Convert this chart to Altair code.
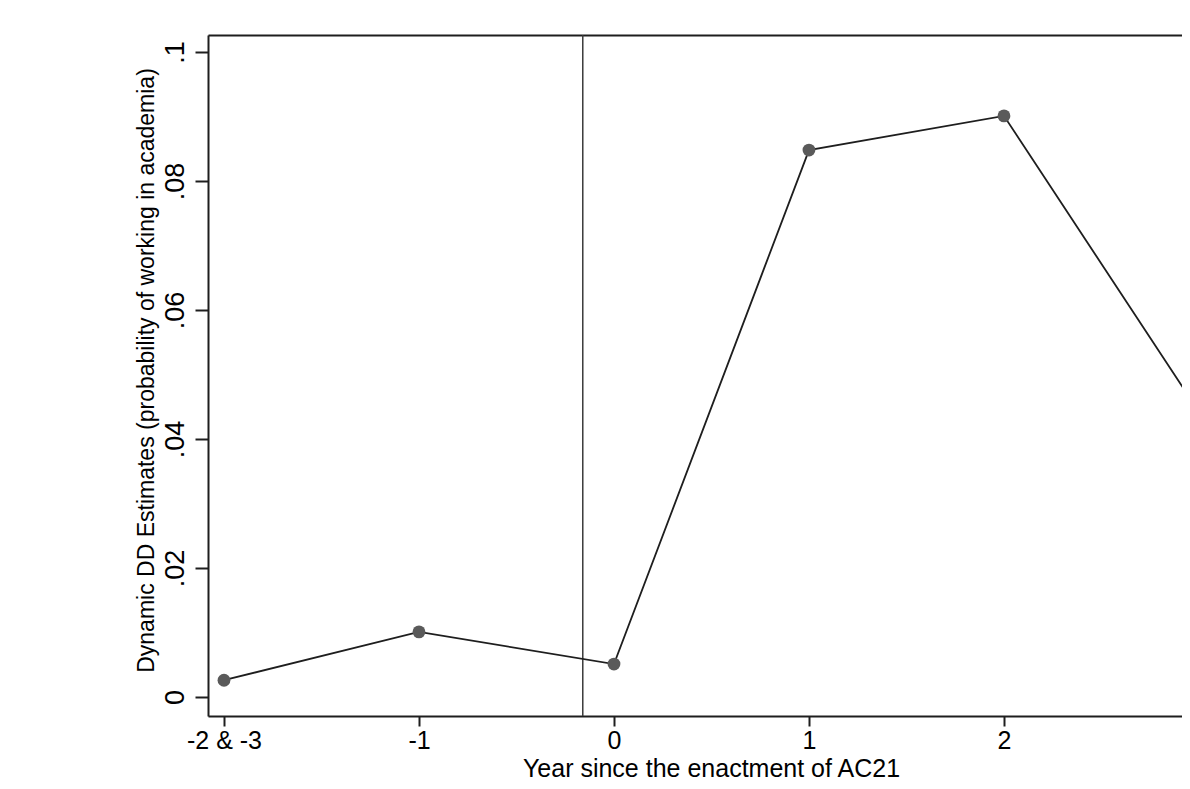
import altair as alt
import pandas as pd

# ---- data ----
years = [-2, -1, 0, 1, 2, 3]
estimates = [0.0026, 0.0101, 0.0051, 0.0848, 0.0901, 0.0442]
x_tick_values = [-2, -1, 0, 1, 2]
x_tick_labels = ["-2 & -3", "-1", "0", "1", "2"]
y_tick_values = [0, 0.02, 0.04, 0.06, 0.08, 0.1]
y_tick_labels = ["0", ".02", ".04", ".06", ".08", ".1"]
enactment_line = [-0.16]
x_domain = [-2.082, 2.913]
y_domain = [-0.00295, 0.10264]

x_title = "Year since the enactment of AC21"
y_title = "Dynamic DD Estimates (probability of working in academia)"

FONT = "Liberation Sans"
INK = "#1e1e1e"


def label_expr(values, labels):
    expr = "''"
    for v, l in reversed(list(zip(values, labels))):
        expr = f"abs(datum.value - ({v})) < 1e-6 ? '{l}' : ({expr})"
    return expr


df = pd.DataFrame({"year": years, "est": estimates})
vdf = pd.DataFrame({"x": enactment_line})

x_scale = alt.Scale(domain=x_domain, nice=False, zero=False)
y_scale = alt.Scale(domain=y_domain, nice=False, zero=False)

x_axis = alt.Axis(
    values=x_tick_values,
    labelExpr=label_expr(x_tick_values, x_tick_labels),
    grid=False,
    domain=True, domainColor=INK, domainWidth=2,
    ticks=True, tickColor=INK, tickWidth=2, tickSize=10,
    labelFont=FONT, labelFontSize=25, labelColor="#000000",
    labelBaseline="alphabetic", labelAlign="center", labelPadding=22,
    labelFlush=False, labelOverlap=False,
    title=x_title, titleFont=FONT, titleFontSize=25, titleFontWeight="normal",
    titleColor="#000000", titleX=503, titleY=60, titleBaseline="alphabetic",
    titleAlign="center",
)

y_axis = alt.Axis(
    values=y_tick_values,
    labelExpr=label_expr(y_tick_values, y_tick_labels),
    grid=False,
    domain=True, domainColor=INK, domainWidth=2,
    ticks=True, tickColor=INK, tickWidth=2, tickSize=13,
    labelFont=FONT, labelFontSize=27, labelColor="#000000",
    labelAngle=270, labelAlign="center", labelBaseline="alphabetic",
    labelPadding=12, labelFlush=False, labelOverlap=False,
    title=y_title, titleFont=FONT, titleFontSize=23, titleFontWeight="normal",
    titleColor="#000000", titleAngle=270, titleX=-55, titleY=335,
    titleBaseline="alphabetic", titleAlign="center",
)

top_axis = alt.Axis(
    orient="top", labels=False, ticks=False, grid=False, title=None,
    domain=True, domainColor=INK, domainWidth=2,
)

line = alt.Chart(df).mark_line(color=INK, strokeWidth=1.8, clip=True).encode(
    x=alt.X("year:Q", scale=x_scale, axis=x_axis),
    y=alt.Y("est:Q", scale=y_scale, axis=y_axis),
)

points = alt.Chart(df).mark_circle(size=165, color="#5a5a5a", opacity=1, clip=True).encode(
    x=alt.X("year:Q", scale=x_scale, axis=None),
    y=alt.Y("est:Q", scale=y_scale, axis=y_axis),
)

vline = alt.Chart(vdf).mark_rule(color="#3a3a3a", strokeWidth=1.5).encode(
    x=alt.X("x:Q", scale=x_scale, axis=top_axis),
)

chart = (
    alt.layer(vline, line, points)
    .resolve_axis(x="independent")
    .properties(
        width=974,
        height=681,
        autosize=alt.AutoSizeParams(type="none"),
        padding={"left": 200, "top": 27, "right": 0, "bottom": 65},
    )
    .configure_view(stroke=None)
    .configure(background="white")
)

chart.save("out.html", embed_options={"renderer": "svg", "actions": False})
